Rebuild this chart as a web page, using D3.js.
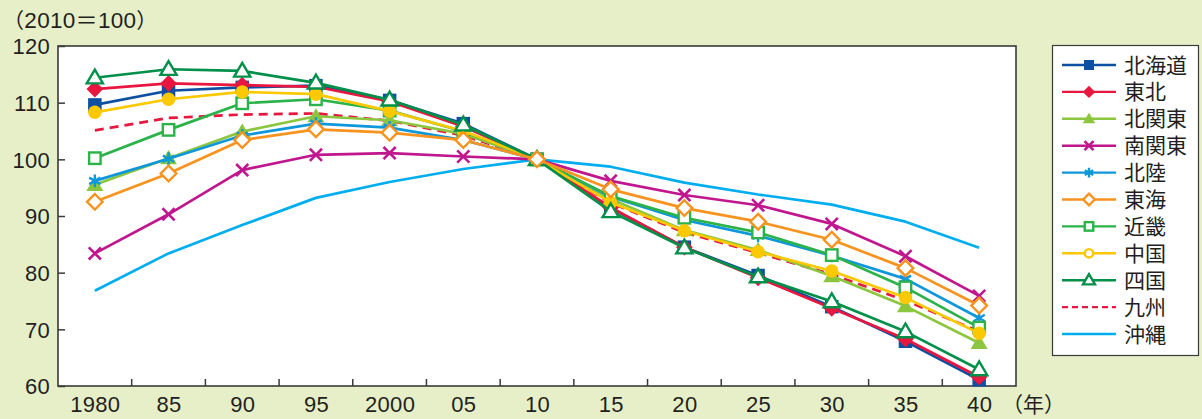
<!DOCTYPE html>
<html><head><meta charset="utf-8">
<script src="https://cdn.jsdelivr.net/npm/d3@7"></script>
<style>
html,body{margin:0;padding:0;background:#e6efc7;}
svg{display:block;font-family:"Liberation Sans",Arial,"Noto Sans CJK JP",sans-serif;}
</style></head>
<body><svg id="c" width="1202" height="419"></svg>
<script>
const years = ["1980","85","90","95","2000","05","10","15","20","25","30","35","40"];
const yTicks = [60,70,80,90,100,110,120];
const names = ["北海道","東北","北関東","南関東","北陸","東海","近畿","中国","四国","九州","沖縄"];
const colors = ["#0d4fa0","#e8173f","#8cc63f","#c0168e","#0f97db","#f7931e","#2bb34a","#fcc800","#00904a","#e8173f","#00aeef"];
const markers = ["squareFill","diamondFill","triangleFill","cross","asterisk","diamondOpen","squareOpen","circleFill","triangleOpen","none","none"];
const legendMarkers = ["squareFill","diamondFill","triangleFill","cross","asterisk","diamondOpen","squareOpen","circleOpen","triangleOpen","none","none"];
const dashed = [false,false,false,false,false,false,false,false,false,true,false];

const hokkaido   = [109.6,112.1,112.7,113.0,110.4,106.3,100,91.4,84.5,79.5,74.0,67.9,61.1];
const tohoku     = [112.4,113.4,113.1,112.8,110.2,105.8,100,91.5,84.5,79.1,73.7,68.3,61.6];
const kitakanto  = [95.5,100.2,104.9,107.6,106.9,104.5,100,93.0,87.5,84.0,79.4,74.1,67.6];
const minamikanto= [83.4,90.3,98.1,100.8,101.1,100.5,100,96.2,93.7,91.9,88.6,82.9,75.9];
const hokuriku   = [96.2,100.1,104.2,106.3,105.6,103.4,100,93.4,89.3,86.5,83.0,78.9,72.0];
const tokai      = [92.5,97.5,103.4,105.3,104.7,103.4,100,94.7,91.4,89.0,85.8,80.8,74.2];
const kinki      = [100.2,105.2,109.9,110.6,108.6,104.9,100,93.5,89.7,87.1,83.1,77.4,70.3];
const chugoku    = [108.3,110.6,111.9,111.5,108.5,105.0,100,92.4,87.4,83.7,80.3,75.6,69.3];
const shikoku    = [114.4,115.9,115.6,113.5,110.5,106.1,100,90.8,84.4,79.3,74.9,69.6,62.9];
const kyushu     = [105.1,107.3,107.9,108.1,106.8,104.2,100,92.3,87.1,83.5,79.7,75.1,69.6];
const okinawa    = [76.8,83.4,88.4,93.2,96.0,98.3,100,98.7,95.9,93.8,92.0,89.0,84.4];
const seriesValues = [hokkaido,tohoku,kitakanto,minamikanto,hokuriku,tokai,kinki,chugoku,shikoku,kyushu,okinawa];

const svg = d3.select("#c");
const L=58,R=1016,T=46,B=386;
const x = d3.scalePoint().domain(years).range([L,R]).padding(0.5);
const y = d3.scaleLinear().domain([60,120]).range([B,T]);
const txt = "#231f20", ax="#3a3a3a";
const cjk = "'Noto Sans CJK JP',sans-serif";

svg.append("rect").attr("x",L).attr("y",T).attr("width",R-L).attr("height",B-T).attr("fill","#fff");

// y axis
const ya = svg.append("g").attr("transform",`translate(${L},0)`)
  .call(d3.axisLeft(y).tickValues(yTicks).tickSize(-7).tickPadding(8).tickSizeOuter(0));
ya.select(".domain").remove();
ya.selectAll("line").attr("stroke",ax).attr("stroke-width",1.5);
ya.selectAll("text").attr("fill",txt).attr("font-size",22).attr("dy","0.36em").attr("letter-spacing",0.3);

// x axis
const xa = svg.append("g").attr("transform",`translate(0,${B})`)
  .call(d3.axisBottom(x).tickSize(0).tickPadding(10));
xa.select(".domain").remove();
xa.selectAll("text").attr("fill",txt).attr("font-size",22).attr("dy","0.71em").attr("letter-spacing",0.3);
const step = x.step();
svg.append("g").selectAll("line").data(years.slice(0,-1)).join("line")
  .attr("x1",d=>x(d)+step/2).attr("x2",d=>x(d)+step/2)
  .attr("y1",B).attr("y2",B-7).attr("stroke",ax).attr("stroke-width",1.5);

// frame
svg.append("rect").attr("x",L).attr("y",T).attr("width",R-L).attr("height",B-T)
  .attr("fill","none").attr("stroke",ax).attr("stroke-width",1.6);

const tt = svg.append("text").attr("x",3).attr("y",28).attr("font-size",22.5).attr("fill",txt).attr("letter-spacing",0.3);
tt.append("tspan").attr("font-family",cjk).attr("font-size",21).text("（");
tt.append("tspan").text("2010");
tt.append("tspan").attr("font-family",cjk).attr("font-size",22).text("＝");
tt.append("tspan").text("100");
tt.append("tspan").attr("font-family",cjk).attr("font-size",21).text("）");

svg.append("text").attr("x",1002).attr("y",412).attr("font-size",21).attr("font-family",cjk).attr("fill",txt).text("（年）");

function drawMarker(g, type, cx, cy, color, s){
  const sw = 2.4;
  switch(type){
    case "squareFill": g.append("rect").attr("x",cx-s/2).attr("y",cy-s/2).attr("width",s).attr("height",s).attr("fill",color); break;
    case "squareOpen": {const q=s*0.85; g.append("rect").attr("x",cx-q/2).attr("y",cy-q/2).attr("width",q).attr("height",q).attr("fill","#fff").attr("stroke",color).attr("stroke-width",sw); break;}
    case "diamondFill": {const r=s*0.62; g.append("path").attr("d",`M${cx},${cy-r}L${cx+r},${cy}L${cx},${cy+r}L${cx-r},${cy}Z`).attr("fill",color); break;}
    case "diamondOpen": {const r=s*0.58; g.append("path").attr("d",`M${cx},${cy-r}L${cx+r},${cy}L${cx},${cy+r}L${cx-r},${cy}Z`).attr("fill","#fff").attr("stroke",color).attr("stroke-width",sw); break;}
    case "triangleFill": {const r=s*0.6; g.append("path").attr("d",`M${cx},${cy-r}L${cx+r*1.05},${cy+r*0.75}L${cx-r*1.05},${cy+r*0.75}Z`).attr("fill",color); break;}
    case "triangleOpen": {const r=s*0.6; g.append("path").attr("d",`M${cx},${cy-r}L${cx+r*1.0},${cy+r*0.7}L${cx-r*1.0},${cy+r*0.7}Z`).attr("fill","#fff").attr("stroke",color).attr("stroke-width",sw); break;}
    case "circleFill": g.append("circle").attr("cx",cx).attr("cy",cy).attr("r",s*0.5).attr("fill",color); break;
    case "circleOpen": g.append("circle").attr("cx",cx).attr("cy",cy).attr("r",s*0.42).attr("fill","#fff").attr("stroke",color).attr("stroke-width",sw); break;
    case "cross": {const r=s*0.45; g.append("path").attr("d",`M${cx-r},${cy-r}L${cx+r},${cy+r}M${cx-r},${cy+r}L${cx+r},${cy-r}`).attr("stroke",color).attr("stroke-width",2.6).attr("fill","none"); break;}
    case "asterisk": {const r=s*0.48; const a=r*0.87,b=r*0.5;
      g.append("path").attr("d",`M${cx},${cy-r}L${cx},${cy+r}M${cx-a},${cy-b}L${cx+a},${cy+b}M${cx-a},${cy+b}L${cx+a},${cy-b}`).attr("stroke",color).attr("stroke-width",2.4).attr("fill","none"); break;}
  }
}

const line = d3.line().x((d,i)=>x(years[i])).y(d=>y(d));
const order = [10,9,0,1,2,3,4,6,7,8,5];
const plot = svg.append("g");
order.forEach(k=>{
  const g = plot.append("g");
  g.append("path").attr("d",line(seriesValues[k])).attr("fill","none")
    .attr("stroke",colors[k]).attr("stroke-width",2.7)
    .attr("stroke-dasharray",dashed[k]?"9,6":null).attr("stroke-linejoin","round");
  if(markers[k]!=="none"){
    seriesValues[k].forEach((v,i)=>drawMarker(g,markers[k],x(years[i]),y(v),colors[k],13.5));
  }
});

// legend
const lg = svg.append("g");
lg.append("rect").attr("x",1052.5).attr("y",45.5).attr("width",146).attr("height",310)
  .attr("fill","#fff").attr("stroke",ax).attr("stroke-width",1.2);
names.forEach((n,k)=>{
  const cy = 65 + k*26.9;
  lg.append("line").attr("x1",1062).attr("x2",1116).attr("y1",cy).attr("y2",cy)
    .attr("stroke",colors[k]).attr("stroke-width",2.4).attr("stroke-dasharray",dashed[k]?"6,4":null);
  if(legendMarkers[k]!=="none") drawMarker(lg,legendMarkers[k],1089,cy,colors[k],10);
  lg.append("text").attr("x",1124).attr("y",cy).attr("dy","0.36em").attr("font-size",21)
    .attr("fill",txt).text(n);
});
</script></body></html>
